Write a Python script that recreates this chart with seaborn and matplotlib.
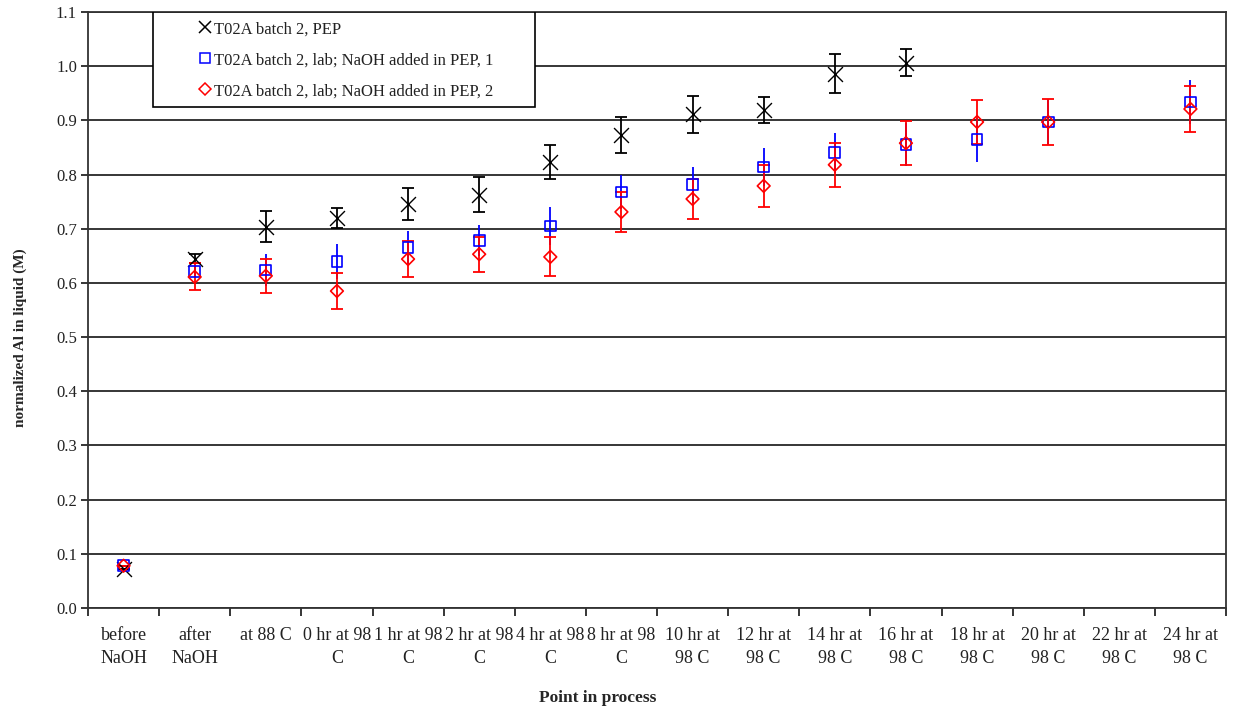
import numpy as np
import pandas as pd
import matplotlib
matplotlib.use("Agg")
import matplotlib.pyplot as plt
import seaborn as sns
from matplotlib.patches import Rectangle
from matplotlib.ticker import FixedLocator

categories = ["before\nNaOH", "after\nNaOH", "at 88 C", "0 hr at 98\nC", "1 hr at 98\nC",
              "2 hr at 98\nC", "4 hr at 98\nC", "8 hr at 98\nC", "10 hr at\n98 C", "12 hr at\n98 C",
              "14 hr at\n98 C", "16 hr at\n98 C", "18 hr at\n98 C", "20 hr at\n98 C", "22 hr at\n98 C",
              "24 hr at\n98 C"]
nan = np.nan
pep_vals = [0.072, 0.645, 0.704, 0.720, 0.746, 0.763, 0.823, 0.873, 0.911, 0.919, 0.986, 1.006,
            nan, nan, nan, nan]
pep_err = [0.0, 0.008, 0.028, 0.018, 0.030, 0.033, 0.031, 0.034, 0.034, 0.024, 0.036, 0.025,
           nan, nan, nan, nan]
lab1_vals = [0.078, 0.621, 0.624, 0.639, 0.665, 0.678, 0.705, 0.768, 0.781, 0.814, 0.840, 0.855,
             0.864, 0.897, nan, 0.934]
lab1_err = [0.0, 0.010, 0.029, 0.032, 0.030, 0.028, 0.035, 0.031, 0.033, 0.035, 0.037, 0.040,
            0.040, 0.040, nan, 0.040]
lab2_vals = [0.078, 0.611, 0.613, 0.585, 0.644, 0.653, 0.648, 0.731, 0.755, 0.779, 0.818, 0.858,
             0.897, 0.897, nan, 0.921]
lab2_err = [0.0, 0.025, 0.032, 0.034, 0.033, 0.032, 0.036, 0.037, 0.037, 0.039, 0.041, 0.040,
            0.040, 0.042, nan, 0.042]
series_names = ["T02A batch 2, PEP", "T02A batch 2, lab; NaOH added in PEP, 1",
                "T02A batch 2, lab; NaOH added in PEP, 2"]
yticks = [round(0.1 * i, 1) for i in range(12)]

sns.set_theme(style="white")
plt.rcParams['font.family'] = ['Liberation Serif', 'DejaVu Serif']

fig = plt.figure(figsize=(12.33, 7.09), dpi=100)
ax = fig.add_axes([88 / 1233, 101 / 709, 1138 / 1233, 596 / 709])

pos = np.arange(len(categories))
df = pd.DataFrame({"pos": pos, "pep": pep_vals, "pep_err": pep_err,
                   "lab1": lab1_vals, "lab1_err": lab1_err,
                   "lab2": lab2_vals, "lab2_err": lab2_err})

for y in yticks:
    ax.axhline(y, color="black", lw=1.1, zorder=0)

specs = [("pep", "pep_err", "black", "x", 115, 4, series_names[0]),
         ("lab1", "lab1_err", "blue", "s", 60, 0, series_names[1]),
         ("lab2", "lab2_err", "red", "D", 42, 4, series_names[2])]
handles = []
for col, ecol, color, mk, size, cap, name in specs:
    sub = df.dropna(subset=[col])
    ax.errorbar(sub["pos"], sub[col], yerr=sub[ecol], fmt="none", ecolor=color,
                elinewidth=1.3, capsize=cap, capthick=1.3, zorder=2)
    if mk == "x":
        sns.scatterplot(data=sub, x="pos", y=col, ax=ax, marker=mk, color=color, s=size,
                        linewidth=1.0, zorder=3, legend=False)
    else:
        sns.scatterplot(data=sub, x="pos", y=col, ax=ax, marker=mk, s=size,
                        facecolor="none", edgecolor=color, linewidth=1.2, zorder=3, legend=False)
    h = plt.Line2D([], [], linestyle="none", marker=mk,
                   markersize=np.sqrt(size) * (0.85 if mk == "x" else 1.0),
                   markerfacecolor="none", markeredgecolor=color, markeredgewidth=1.1)
    handles.append(h)

ax.set_xlim(-0.5, len(categories) - 0.5)
ax.set_ylim(0, 1.1)
ax.yaxis.set_major_locator(FixedLocator(yticks))
ax.set_yticklabels([f"{v:.1f}" for v in yticks], fontsize=12)
ax.xaxis.set_major_locator(FixedLocator(pos))
ax.set_xticklabels(categories, fontsize=13, linespacing=1.45)
ax.xaxis.set_minor_locator(FixedLocator(np.arange(len(categories) + 1) - 0.5))
ax.tick_params(axis="x", which="major", length=0, pad=14, colors="#222222")
ax.tick_params(axis="x", which="minor", length=6, width=1.1, direction="out", color="black", bottom=True)
ax.tick_params(axis="y", which="major", length=5, width=1.1, direction="out", color="black", left=True, pad=3)
for lbl in ax.get_xticklabels() + ax.get_yticklabels():
    lbl.set_color("#222222")
for s in ax.spines.values():
    s.set_visible(True)
    s.set_color("#333333")
    s.set_linewidth(1.3)

ax.set_xlabel("Point in process", fontsize=12.5, fontweight="bold")
ax.xaxis.set_label_coords((598 - 88) / 1138, (608 - 698) / 596)
ax.xaxis.label.set_va("center")
ax.set_ylabel("normalized Al in liquid (M)", fontsize=11, fontweight="bold")
ax.yaxis.set_label_coords((20 - 88) / 1138, (608 - 338) / 596)
ax.yaxis.label.set_va("center")

# legend box
x0 = (153 - 88) / 1138
x1 = (535 - 88) / 1138
y0 = (608 - 107) / 596
ax.add_patch(Rectangle((x0, y0), x1 - x0, 1 - y0, transform=ax.transAxes, facecolor="white",
                       edgecolor="black", lw=1.2, zorder=5))
leg = ax.legend(handles, series_names, loc="upper left",
                bbox_to_anchor=((193 - 88) / 1138, 1 - 6 / 596), frameon=False, fontsize=12,
                handlelength=1.0, handletextpad=0.05, labelspacing=0.9, borderaxespad=0, borderpad=0.2)
leg.set_zorder(6)
for t in leg.get_texts():
    t.set_color("#222222")

fig.savefig("out.png", dpi=100, facecolor="white")
